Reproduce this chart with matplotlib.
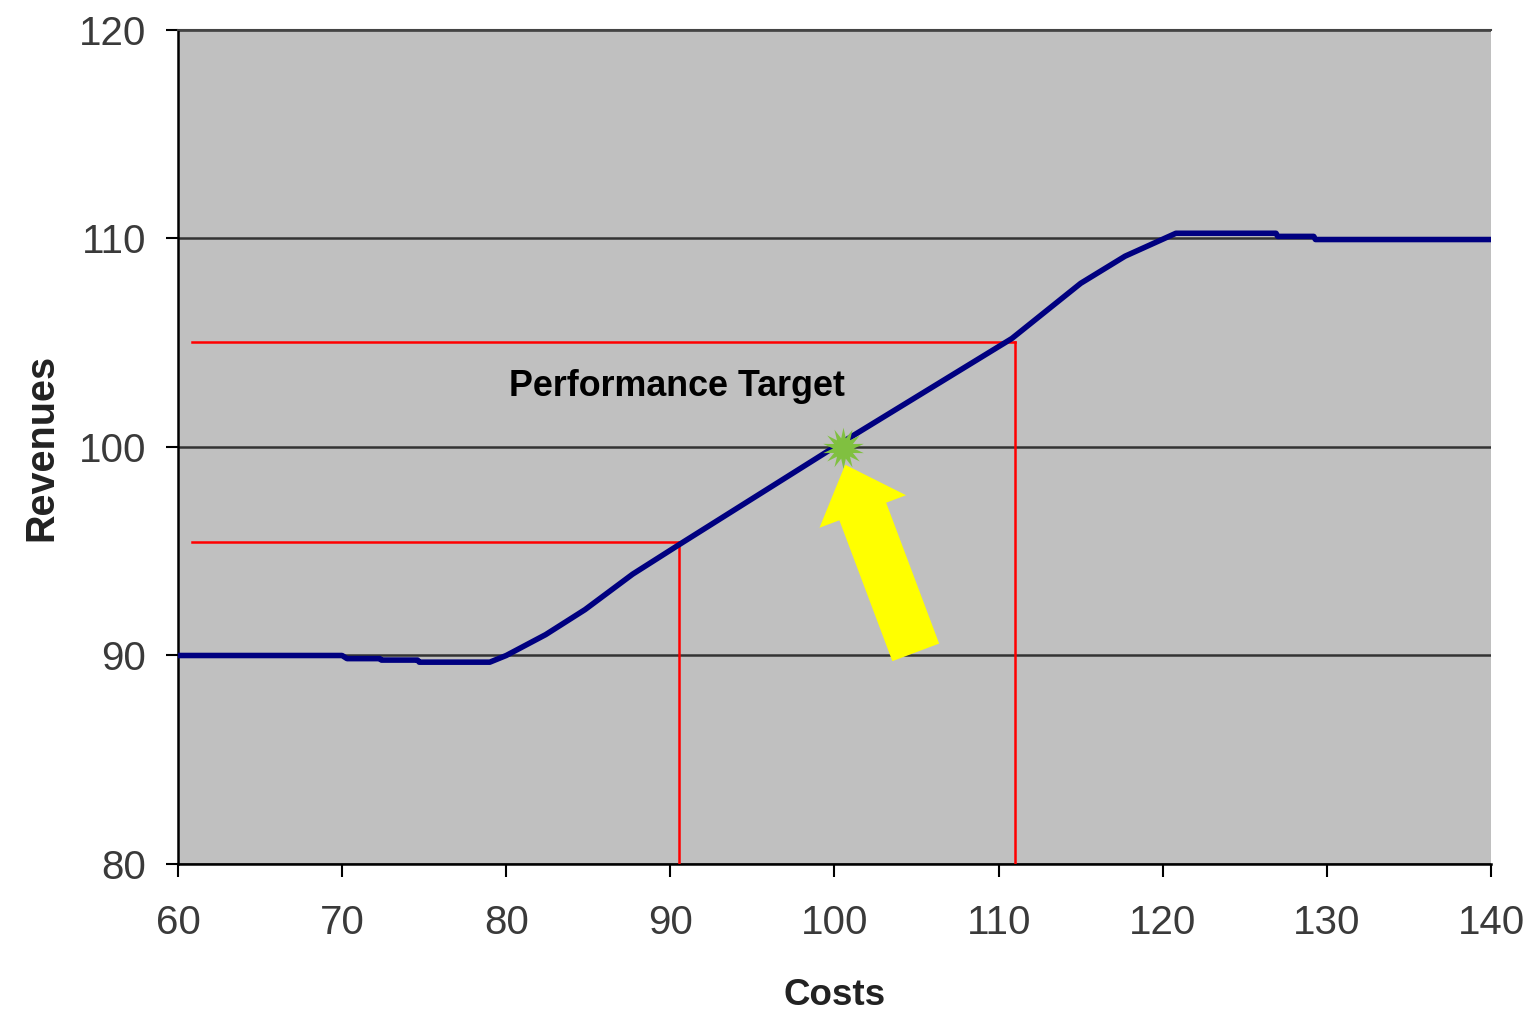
import matplotlib
matplotlib.use("Agg")
import matplotlib.pyplot as plt

# Data
costs = [60, 70, 70.3, 72.3, 72.4, 74.6, 74.7, 79.0, 80.0, 82.4, 84.8, 87.7, 90.5,
         100.0, 110.8, 115.0, 117.7, 120.8, 126.9, 127.0, 129.2, 129.3, 140]
revenues = [90.0, 90.0, 89.85, 89.85, 89.78, 89.78, 89.68, 89.68, 90.0, 91.0, 92.2, 93.9, 95.3,
            100.0, 105.2, 107.85, 109.15, 110.25, 110.25, 110.1, 110.1, 109.95, 109.95]

low_target = (90.5, 95.45)
high_target = (111.0, 105.05)
guide_start_x = 60.85
target_point = (100.5, 99.95)
arrow_tail = (104.95, 90.15)
arrow_tip = (100.65, 99.15)

x_ticks = [60, 70, 80, 90, 100, 110, 120, 130, 140]
y_ticks = [80, 90, 100, 110, 120]

fig = plt.figure(figsize=(15.34, 10.16), dpi=100)
ax = fig.add_axes([0.116, 0.1496, 0.856, 0.8209])
ax.set_facecolor('#C0C0C0')
ax.set_xlim(60, 140)
ax.set_ylim(80, 120)
ax.set_xticks(x_ticks)
ax.set_yticks(y_ticks)

tick_font = ['Liberation Sans Narrow', 'Liberation Sans', 'DejaVu Sans']
for lab in ax.get_xticklabels() + ax.get_yticklabels():
    lab.set_family(tick_font)
    lab.set_fontsize(29)
    lab.set_color('#3a3a3a')
ax.tick_params(axis='both', length=9, width=1.5, color='black', direction='out')
ax.tick_params(axis='x', pad=20)
ax.tick_params(axis='y', pad=14)

# gridlines
ax.yaxis.grid(True, color='#333333', linewidth=1.8)
ax.set_axisbelow(True)
ax.spines['right'].set_visible(False)
ax.spines['top'].set_color('#444444')
ax.spines['top'].set_linewidth(1.5)
ax.spines['left'].set_linewidth(1.8)
ax.spines['bottom'].set_linewidth(1.8)

# red guide lines
for gx, gy in [low_target, high_target]:
    ax.plot([guide_start_x, gx], [gy, gy], color='#FF0000', linewidth=1.8, zorder=3)
    ax.plot([gx, gx], [80, gy], color='#FF0000', linewidth=1.8, zorder=3)

# curve
ax.plot(costs, revenues, color='#000080', linewidth=4.0, zorder=4, solid_capstyle='butt')

# target marker
ax.plot([target_point[0]], [target_point[1]], marker=(14, 1, 0), markersize=30,
        color='#80C040', markeredgewidth=0, zorder=5, linestyle='none')

# yellow arrow
ax.annotate('', xy=arrow_tip, xytext=arrow_tail,
            arrowprops=dict(arrowstyle='simple,head_width=1.85,head_length=1.0,tail_width=1.0',
                            mutation_scale=36, color='#FFFF00', shrinkA=0, shrinkB=0, lw=0),
            zorder=6)

ax.text(90.4, 102.9, 'Performance Target', ha='center', va='center',
        fontsize=25.8, fontweight='bold', family=['Liberation Sans', 'DejaVu Sans'], color='black')

ax.set_xlabel('Costs', fontsize=26.5, fontweight='bold', family=['Liberation Sans', 'DejaVu Sans'],
              color='#222222', labelpad=26)
ax.set_ylabel('Revenues', fontsize=28.5, fontweight='bold', family=['Liberation Sans', 'DejaVu Sans'],
              color='#222222', labelpad=13)

fig.savefig('out.png', dpi=100, facecolor='white')
